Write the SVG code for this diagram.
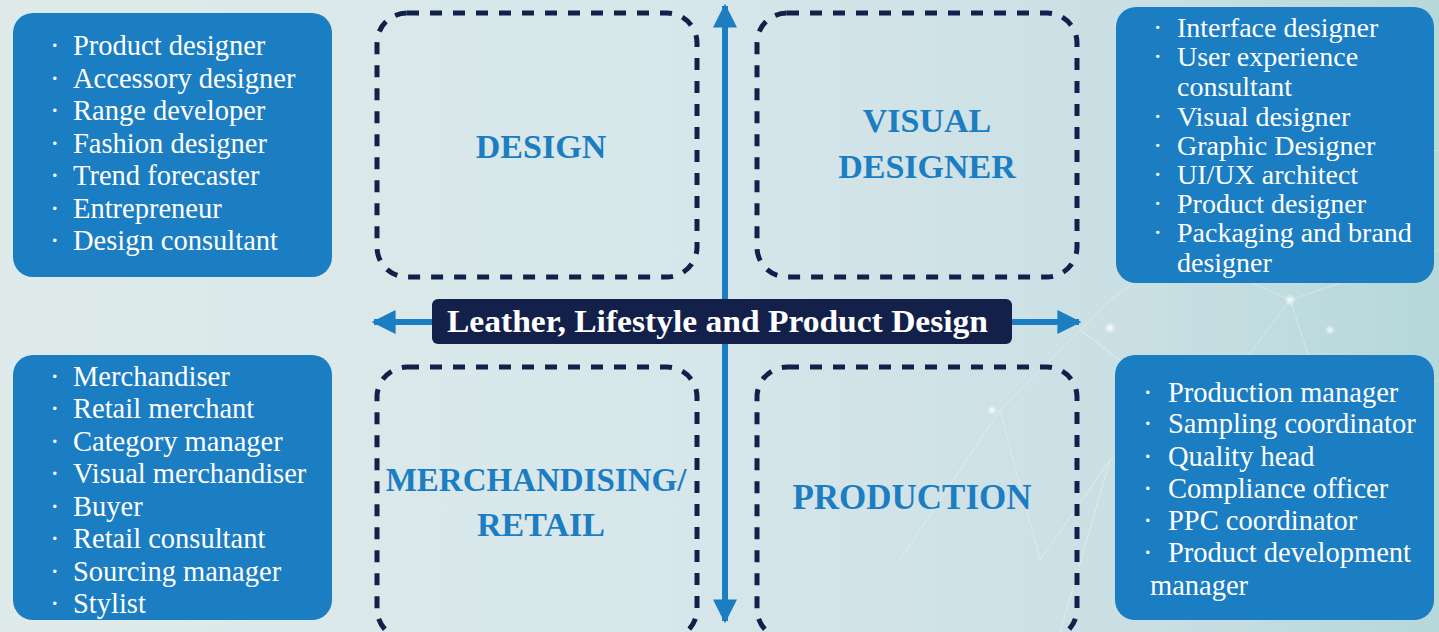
<svg xmlns="http://www.w3.org/2000/svg" width="1439" height="632" viewBox="0 0 1439 632">
<defs>
<linearGradient id="bg" x1="0" y1="0" x2="1" y2="0">
<stop offset="0" stop-color="#dfebea"/>
<stop offset="0.5" stop-color="#d6e6ea"/>
<stop offset="0.8" stop-color="#c9dfe4"/>
<stop offset="1" stop-color="#b5d8da"/>
</linearGradient>
<radialGradient id="glow" cx="0.5" cy="0.5" r="0.5">
<stop offset="0" stop-color="#ffffff" stop-opacity="0.9"/>
<stop offset="1" stop-color="#ffffff" stop-opacity="0"/>
</radialGradient>
<marker id="ah" viewBox="0 0 10 10" refX="9" refY="5" markerWidth="4" markerHeight="4" orient="auto-start-reverse" markerUnits="strokeWidth">
<path d="M0,0 L10,5 L0,10 z" fill="#1b7dc2"/>
</marker>
<style>
.list{fill:#1b7dc2}
.dash{fill:none;stroke:#13214a;stroke-width:5;stroke-dasharray:12 11}
.li{font-family:"Liberation Serif",serif;font-size:28.5px;fill:#ffffff}
.lt{font-size:28px}
.lbl{font-family:"Liberation Serif",serif;font-size:34px;font-weight:bold;fill:#1b7dc2;text-anchor:middle}
.net{stroke:#ffffff;stroke-opacity:0.35;stroke-width:1;fill:none}
</style>
</defs>
<rect x="0" y="0" width="1439" height="632" fill="url(#bg)"/>
<g id="background-network">
<path class="net" d="M1000,410 L1080,330 L1110,300 L1180,250 L1290,300 L1439,250 M1080,330 L1200,420 L1290,300 M1040,560 L1110,460 L1200,420 M1110,460 L1060,632 M1290,300 L1330,420 L1439,380 M1180,250 L1230,200 L1439,150 M900,560 L1000,410 L1040,560"/>
<circle cx="1110" cy="328" r="6" fill="url(#glow)"/>
<circle cx="1290" cy="300" r="6" fill="url(#glow)"/>
<circle cx="992" cy="410" r="5" fill="url(#glow)"/>
<circle cx="1330" cy="330" r="5" fill="url(#glow)"/>
</g>

<g id="connectors">
<line x1="725" y1="315" x2="725" y2="6" stroke="#1b7dc2" stroke-width="6" marker-end="url(#ah)"/>
<line x1="725" y1="330" x2="725" y2="621" stroke="#1b7dc2" stroke-width="6" marker-end="url(#ah)"/>
<line x1="725" y1="322" x2="374" y2="322" stroke="#1b7dc2" stroke-width="6" marker-end="url(#ah)"/>
<line x1="725" y1="322" x2="1079" y2="322" stroke="#1b7dc2" stroke-width="6" marker-end="url(#ah)"/>
</g>

<g id="design">
<rect class="dash" x="377" y="13" width="320" height="264" rx="30"/>
<text class="lbl" x="541" y="158">DESIGN</text>
</g>
<g id="visual-designer">
<rect class="dash" x="757" y="13" width="320" height="264" rx="30"/>
<text class="lbl" x="927" y="132">VISUAL</text>
<text class="lbl" x="927" y="178">DESIGNER</text>
</g>
<g id="merchandising-retail">
<rect class="dash" x="377" y="367" width="320" height="272" rx="30"/>
<text class="lbl" x="536" y="491" style="font-size:33px">MERCHANDISING/</text>
<text class="lbl" x="541" y="536">RETAIL</text>
</g>
<g id="production">
<rect class="dash" x="757" y="367" width="320" height="272" rx="30"/>
<text class="lbl" x="912" y="509" style="font-size:35px">PRODUCTION</text>
</g>

<g id="center-title">
<rect x="432" y="299" width="580" height="45" rx="6" fill="#13214a"/>
<text x="717.5" y="332" font-family="Liberation Serif, serif" font-size="32" font-weight="bold" fill="#ffffff" text-anchor="middle" textLength="541" lengthAdjust="spacingAndGlyphs">Leather, Lifestyle and Product Design</text>
</g>

<g id="design-roles">
<rect class="list" x="13" y="13" width="319" height="264" rx="20"/>
<text class="li" x="50" y="55">·</text><text class="li" x="73" y="55">Product designer</text>
<text class="li" x="50" y="88">·</text><text class="li" x="73" y="88">Accessory designer</text>
<text class="li" x="50" y="120">·</text><text class="li" x="73" y="120">Range developer</text>
<text class="li" x="50" y="153">·</text><text class="li" x="73" y="153">Fashion designer</text>
<text class="li" x="50" y="185">·</text><text class="li" x="73" y="185">Trend forecaster</text>
<text class="li" x="50" y="218">·</text><text class="li" x="73" y="218">Entrepreneur</text>
<text class="li" x="50" y="250">·</text><text class="li" x="73" y="250">Design consultant</text>
</g>

<g id="visual-roles">
<rect class="list" x="1116" y="7" width="318" height="276" rx="20"/>
<text class="li lt" x="1153" y="37">·</text><text class="li lt" x="1177" y="37">Interface designer</text>
<text class="li lt" x="1153" y="66">·</text><text class="li lt" x="1177" y="66">User experience</text>
<text class="li lt" x="1177" y="96">consultant</text>
<text class="li lt" x="1153" y="126">·</text><text class="li lt" x="1177" y="126">Visual designer</text>
<text class="li lt" x="1153" y="155">·</text><text class="li lt" x="1177" y="155">Graphic Designer</text>
<text class="li lt" x="1153" y="184">·</text><text class="li lt" x="1177" y="184">UI/UX architect</text>
<text class="li lt" x="1153" y="213">·</text><text class="li lt" x="1177" y="213">Product designer</text>
<text class="li lt" x="1153" y="242">·</text><text class="li lt" x="1177" y="242">Packaging and brand</text>
<text class="li lt" x="1177" y="272">designer</text>
</g>

<g id="merchandising-roles">
<rect class="list" x="13" y="355" width="319" height="265" rx="20"/>
<text class="li" x="50" y="386">·</text><text class="li" x="73" y="386">Merchandiser</text>
<text class="li" x="50" y="418">·</text><text class="li" x="73" y="418">Retail merchant</text>
<text class="li" x="50" y="451">·</text><text class="li" x="73" y="451">Category manager</text>
<text class="li" x="50" y="483">·</text><text class="li" x="73" y="483">Visual merchandiser</text>
<text class="li" x="50" y="516">·</text><text class="li" x="73" y="516">Buyer</text>
<text class="li" x="50" y="548">·</text><text class="li" x="73" y="548">Retail consultant</text>
<text class="li" x="50" y="581">·</text><text class="li" x="73" y="581">Sourcing manager</text>
<text class="li" x="50" y="613">·</text><text class="li" x="73" y="613">Stylist</text>
</g>

<g id="production-roles">
<rect class="list" x="1115" y="355" width="319" height="265" rx="20"/>
<text class="li" x="1143" y="402">·</text><text class="li" x="1168" y="402">Production manager</text>
<text class="li" x="1143" y="433">·</text><text class="li" x="1168" y="433">Sampling coordinator</text>
<text class="li" x="1143" y="466">·</text><text class="li" x="1168" y="466">Quality head</text>
<text class="li" x="1143" y="498">·</text><text class="li" x="1168" y="498">Compliance officer</text>
<text class="li" x="1143" y="530">·</text><text class="li" x="1168" y="530">PPC coordinator</text>
<text class="li" x="1143" y="562">·</text><text class="li" x="1168" y="562">Product development</text>
<text class="li" x="1150" y="595">manager</text>
</g>
</svg>
